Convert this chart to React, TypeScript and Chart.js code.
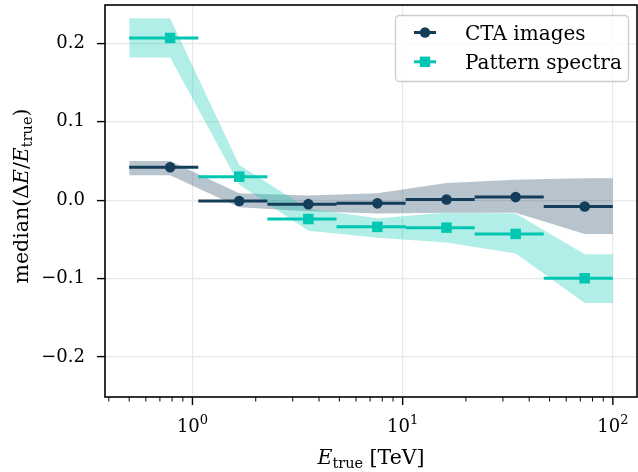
import React, { useEffect, useRef } from "react";
import { Chart, registerables } from "chart.js";

Chart.register(...registerables);

// ---- data ----
const binEdges = [0.5, 1.066, 2.272, 4.844, 10.33, 22.01, 46.92, 100];
const binCenters = [0.783, 1.669, 3.558, 7.584, 16.17, 34.47, 73.46];

const ctaMedian = [0.042, -0.001, -0.005, -0.004, 0.001, 0.004, -0.008];
const ctaLow = [0.032, -0.009, -0.014, -0.017, -0.016, -0.016, -0.043];
const ctaHigh = [0.05, 0.009, 0.006, 0.009, 0.022, 0.026, 0.028];

const patMedian = [0.207, 0.03, -0.024, -0.034, -0.035, -0.043, -0.0995];
const patLow = [0.182, 0.02, -0.039, -0.048, -0.054, -0.068, -0.131];
const patHigh = [0.232, 0.045, -0.011, -0.023, -0.016, -0.017, -0.069];

const yTicks = [-0.2, -0.1, 0, 0.1, 0.2];
const xMajorTicks = [1, 10, 100];
const xMajorExponents = ["0", "1", "2"];
const xMinorTicks = [0.4, 0.5, 0.6, 0.7, 0.8, 0.9, 2, 3, 4, 5, 6, 7, 8, 9, 20, 30, 40, 50, 60, 70, 80, 90];
const legendLabels = ["CTA images", "Pattern spectra"];

const NAVY = "#143D59";
const TEAL = "#00C6B2";
const NAVY_BAND = "rgba(20,61,89,0.3)";
const TEAL_BAND = "rgba(0,198,178,0.3)";
const GRID = "#e8e8e8";
const FAMILY = '"DejaVu Serif"';

const W = 638;
const H = 472;

function barData(med: number[]) {
  const pts: { x: number; y: number | null }[] = [];
  for (let i = 0; i < med.length; i++) {
    pts.push({ x: binEdges[i], y: med[i] });
    pts.push({ x: binEdges[i + 1], y: med[i] });
    pts.push({ x: binEdges[i + 1], y: null });
  }
  return pts;
}

function bandData(vals: number[]) {
  const xs = [binEdges[0], ...binCenters, binEdges[binEdges.length - 1]];
  const ys = [vals[0], ...vals, vals[vals.length - 1]];
  return xs.map((x, i) => ({ x, y: ys[i] }));
}

function markerData(vals: number[]) {
  return binCenters.map((x, i) => ({ x, y: vals[i] }));
}

type Seg = { t: string; font: string; dy?: number };

function drawSegs(ctx: CanvasRenderingContext2D, segs: Seg[], cx: number, baseline: number) {
  let w = 0;
  segs.forEach((s) => {
    ctx.font = s.font;
    w += ctx.measureText(s.t).width;
  });
  let x = cx - w / 2;
  ctx.textAlign = "left";
  ctx.textBaseline = "alphabetic";
  segs.forEach((s) => {
    ctx.font = s.font;
    ctx.fillText(s.t, x, baseline + (s.dy || 0));
    x += ctx.measureText(s.t).width;
  });
}

const overlayPlugin = {
  id: "overlay",
  afterDraw(chart: any) {
    const ctx: CanvasRenderingContext2D = chart.ctx;
    const { left, right, top, bottom } = chart.chartArea;
    const xs = chart.scales.x;
    ctx.save();

    // spines
    ctx.strokeStyle = "#000";
    ctx.lineWidth = 1.6;
    ctx.strokeRect(left, top, right - left, bottom - top);

    // x tick marks
    const tick = (px: number, len: number, w: number) => {
      ctx.beginPath();
      ctx.lineWidth = w;
      ctx.moveTo(px, bottom);
      ctx.lineTo(px, bottom + len);
      ctx.stroke();
    };
    xMinorTicks.forEach((v) => tick(xs.getPixelForValue(v), 4.5, 1));
    xMajorTicks.forEach((v) => tick(xs.getPixelForValue(v), 8, 1.4));

    // x tick labels 10^n
    ctx.fillStyle = "#000";
    xMajorTicks.forEach((v, i) => {
      const px = xs.getPixelForValue(v);
      drawSegs(
        ctx,
        [
          { t: "10", font: `18px ${FAMILY}` },
          { t: xMajorExponents[i], font: `13px ${FAMILY}`, dy: -8 },
        ],
        px,
        432
      );
    });

    // x axis title
    drawSegs(
      ctx,
      [
        { t: "E", font: `italic 20.5px ${FAMILY}` },
        { t: "true", font: `14.5px ${FAMILY}`, dy: 4 },
        { t: " [TeV]", font: `20.5px ${FAMILY}` },
      ],
      (left + right) / 2,
      464
    );

    // y axis title
    ctx.save();
    ctx.translate(28, 196);
    ctx.rotate(-Math.PI / 2);
    drawSegs(
      ctx,
      [
        { t: "median(Δ", font: `20.5px ${FAMILY}` },
        { t: "E", font: `italic 20.5px ${FAMILY}` },
        { t: "/", font: `20.5px ${FAMILY}` },
        { t: "E", font: `italic 20.5px ${FAMILY}` },
        { t: "true", font: `14.5px ${FAMILY}`, dy: 4 },
        { t: ")", font: `20.5px ${FAMILY}` },
      ],
      0,
      0
    );
    ctx.restore();

    // legend
    ctx.beginPath();
    (ctx as any).roundRect(395.5, 15.5, 233, 66, 4);
    ctx.fillStyle = "rgba(255,255,255,0.8)";
    ctx.fill();
    ctx.strokeStyle = "#cccccc";
    ctx.lineWidth = 1.3;
    ctx.stroke();

    const items = [
      { y: 32.5, color: NAVY, shape: "circle" },
      { y: 61.8, color: TEAL, shape: "rect" },
    ];
    items.forEach((it, i) => {
      ctx.strokeStyle = it.color;
      ctx.fillStyle = it.color;
      ctx.lineWidth = 3;
      ctx.beginPath();
      ctx.moveTo(414, it.y);
      ctx.lineTo(436, it.y);
      ctx.stroke();
      ctx.beginPath();
      if (it.shape === "circle") {
        ctx.arc(425, it.y, 5.2, 0, Math.PI * 2);
      } else {
        ctx.rect(425 - 5.2, it.y - 5.2, 10.4, 10.4);
      }
      ctx.fill();
      ctx.fillStyle = "#000";
      ctx.font = `20px ${FAMILY}`;
      ctx.textAlign = "left";
      ctx.textBaseline = "alphabetic";
      ctx.fillText(legendLabels[i], 465, it.y + 7);
    });

    ctx.restore();
  },
};

function fmtY(v: number) {
  if (Math.abs(v) < 1e-9) return "0.0";
  return (v < 0 ? "\u2212" : "") + Math.abs(v).toFixed(1);
}

export default function App() {
  const canvasRef = useRef<HTMLCanvasElement | null>(null);

  useEffect(() => {
    document.body.style.margin = "0";
    document.body.style.overflow = "hidden";
    const canvas = canvasRef.current;
    if (!canvas) return;

    const lineBase = { pointRadius: 0, fill: false, spanGaps: false, borderCapStyle: "butt" as const };
    const bandBase = { pointRadius: 0, borderWidth: 0, borderColor: "rgba(0,0,0,0)" };

    const chart = new Chart(canvas, {
      type: "line",
      data: {
        datasets: [
          {
            label: "CTA markers",
            data: markerData(ctaMedian),
            showLine: false,
            pointStyle: "circle",
            pointRadius: 5.3,
            pointBorderWidth: 0,
            pointBackgroundColor: NAVY,
            borderColor: NAVY,
          },
          {
            label: "CTA bars",
            data: barData(ctaMedian),
            borderColor: NAVY,
            borderWidth: 3,
            ...lineBase,
          },
          {
            label: "Pattern markers",
            data: markerData(patMedian),
            showLine: false,
            pointStyle: "rect",
            pointRadius: 7.4,
            pointBorderWidth: 0,
            pointBackgroundColor: TEAL,
            borderColor: TEAL,
          },
          {
            label: "Pattern bars",
            data: barData(patMedian),
            borderColor: TEAL,
            borderWidth: 3,
            ...lineBase,
          },
          {
            label: "Pattern high",
            data: bandData(patHigh),
            ...bandBase,
            fill: "+1",
            backgroundColor: TEAL_BAND,
          },
          {
            label: "Pattern low",
            data: bandData(patLow),
            ...bandBase,
            fill: false,
          },
          {
            label: "CTA high",
            data: bandData(ctaHigh),
            ...bandBase,
            fill: "+1",
            backgroundColor: NAVY_BAND,
          },
          {
            label: "CTA low",
            data: bandData(ctaLow),
            ...bandBase,
            fill: false,
          },
        ] as any,
      },
      options: {
        animation: false,
        responsive: false,
        devicePixelRatio: 1,
        layout: { autoPadding: false, padding: { top: 5, right: 1, left: 0, bottom: 0 } },
        plugins: {
          legend: { display: false },
          tooltip: { enabled: false },
        },
        scales: {
          x: {
            type: "logarithmic",
            min: 0.3836,
            max: 130.3,
            afterBuildTicks: (s: any) => {
              const all = [...xMinorTicks, ...xMajorTicks].sort((a, b) => a - b);
              s.ticks = all.map((v) => ({ value: v, major: xMajorTicks.includes(v) }));
            },
            afterFit: (s: any) => {
              s.height = 75;
              s.paddingLeft = 0;
              s.paddingRight = 0;
            },
            ticks: { display: false },
            grid: {
              drawTicks: false,
              color: (c: any) => (c.tick && c.tick.major ? GRID : "rgba(0,0,0,0)"),
              lineWidth: (c: any) => (c.tick && c.tick.major ? 1.2 : 0),
            },
            border: { display: false },
          },
          y: {
            type: "linear",
            min: -0.251,
            max: 0.249,
            afterBuildTicks: (s: any) => {
              s.ticks = yTicks.map((v) => ({ value: v }));
            },
            afterFit: (s: any) => {
              s.width = 105;
              s.paddingTop = 0;
              s.paddingBottom = 0;
            },
            ticks: {
              callback: (v: any) => fmtY(Number(v)),
              font: { family: "DejaVu Serif", size: 18 },
              color: "#000",
              padding: 12,
              autoSkip: false,
            },
            grid: {
              color: GRID,
              lineWidth: 1.2,
              tickColor: "#000",
              tickLength: 8,
              tickWidth: 1.4,
            },
            border: { display: false },
          },
        },
      } as any,
      plugins: [overlayPlugin],
    });

    return () => chart.destroy();
  }, []);

  return (
    <div style={{ width: W, height: H, position: "relative", overflow: "hidden" }}>
      <canvas ref={canvasRef} width={W} height={H} style={{ display: "block", width: W, height: H }} />
    </div>
  );
}
